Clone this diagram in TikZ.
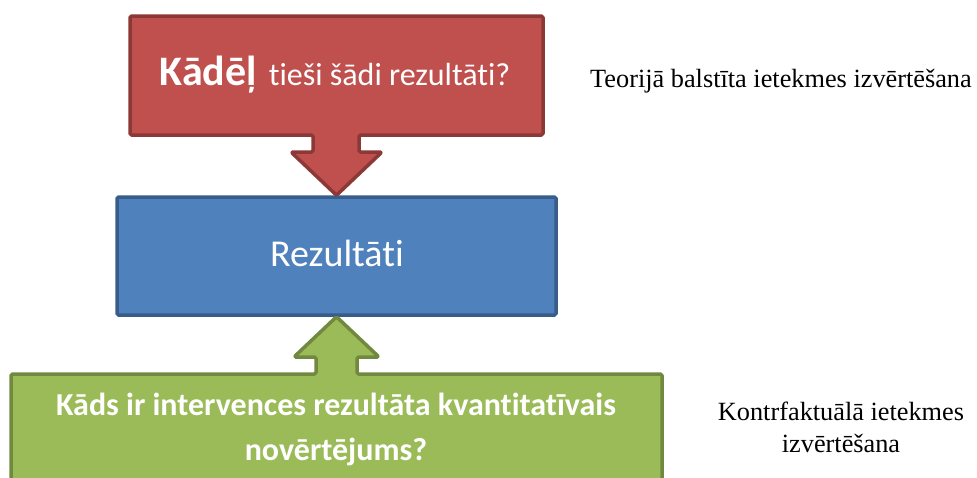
\documentclass[tikz,border=0pt]{standalone}
\usepackage{fontspec}
\setmainfont{Liberation Serif}
\newfontfamily\calibri[Ligatures={NoCommon}]{Carlito}
\definecolor{whyfill}{HTML}{C0504D}
\definecolor{whyline}{HTML}{8C3836}
\definecolor{resfill}{HTML}{4F81BD}
\definecolor{resline}{HTML}{385D8A}
\definecolor{howfill}{HTML}{9BBB59}
\definecolor{howline}{HTML}{71893F}
\tikzset{
  callout/.style={line width=3.5pt, line join=round, rounded corners=1.5pt},
  boxtext/.style={text=white, font=\calibri, inner sep=0pt},
  sidetext/.style={font=\fontsize{26.3}{32}\selectfont, inner sep=0pt}
}
\begin{document}
\begin{tikzpicture}[x=1pt, y=-1pt]
  \useasboundingbox (0,0) rectangle (977,477);

  % results box
  \node[draw=resline, fill=resfill, line width=3.5pt, rounded corners=1.5pt,
        minimum width=439pt, minimum height=118pt, inner sep=0pt]
        (rez) at (336.5,256) {};
  \node[boxtext, anchor=base, font=\calibri\fontsize{38}{42}\selectfont]
        (reztext) at (337,266) {Rezultāti};

  % theory based (down arrow)
  \draw[callout, draw=whyline, fill=whyfill]
    (130,16) -- (543,16) -- (543,135) -- (359,135) -- (359,152) -- (382,152)
    -- (rez.north) -- (291,152) -- (313,152) -- (313,135) -- (130,135) -- cycle;
  \node[boxtext, anchor=base] (why) at (335,85)
    {{\bfseries\fontsize{42}{46}\selectfont Kādēļ}\hspace{12pt}{\fontsize{32}{36}\selectfont tieši šādi rezultāti?}};

  % counterfactual (up arrow)
  \draw[callout, draw=howline, fill=howfill]
    (11,374) -- (316,374) -- (316,357) -- (294,357) -- (rez.south)
    -- (379,357) -- (357,357) -- (357,374) -- (662,374) -- (662,530)
    -- (11,530) -- cycle;
  \node[boxtext, anchor=base, align=center,
        font=\calibri\bfseries\fontsize{32}{45}\selectfont]
        (how) at (336,460) {Kāds ir intervences rezultāta kvantitatīvais\\novērtējums?};

  % side labels
  \node[sidetext, anchor=base west] (theory) at (590,87)
    {Teorijā balstīta ietekmes izvērtēšana};
  \node[sidetext, anchor=base, align=center] (counter) at (841,452)
    {Kontrfaktuālā ietekmes\\izvērtēšana};
\end{tikzpicture}
\end{document}
